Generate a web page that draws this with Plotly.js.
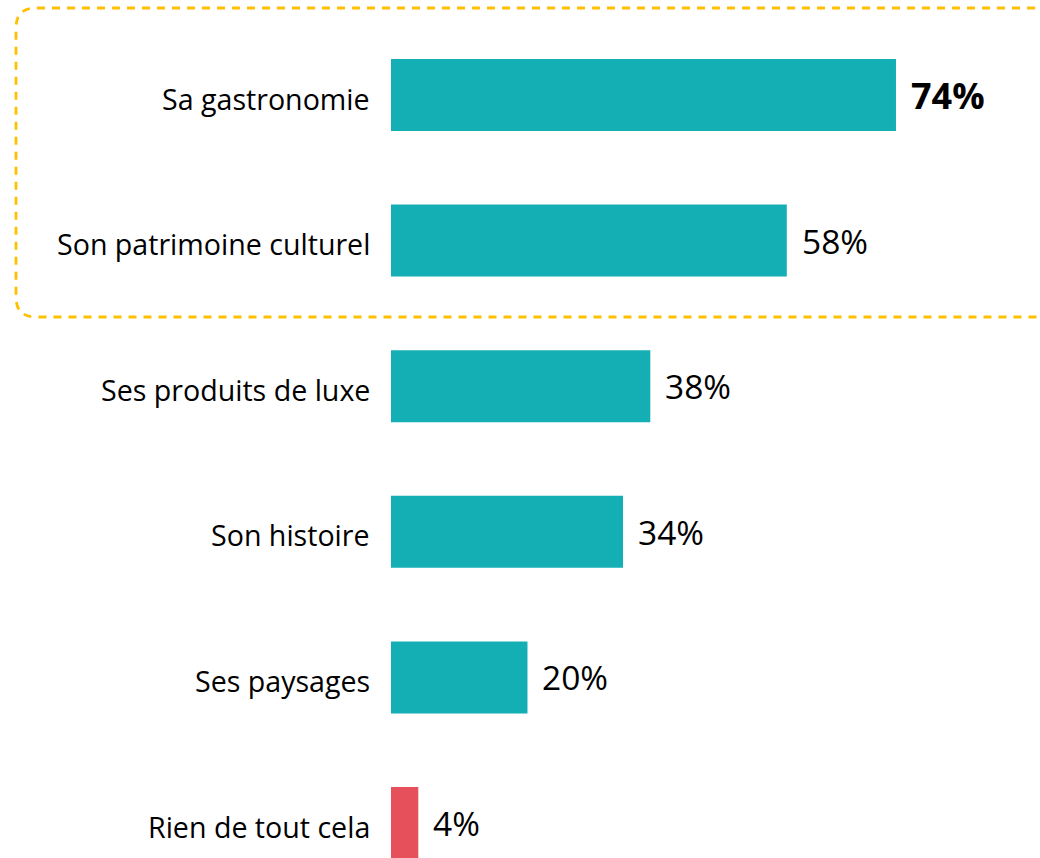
<!DOCTYPE html>
<html>
<head>
<meta charset="utf-8">
<script src="https://cdn.plot.ly/plotly-3.0.1.min.js"></script>
<style>html,body{margin:0;padding:0;background:#fff;}#chart{width:1040px;height:858px;}</style>
</head>
<body>
<div id="chart"></div>
<script>
const categories = ["Sa gastronomie", "Son patrimoine culturel", "Ses produits de luxe", "Son histoire", "Ses paysages", "Rien de tout cela"];
const values = [74, 58, 38, 34, 20, 4];
const valueLabels = ["<b>74%</b>", "58%", "38%", "34%", "20%", "4%"];
const labelSizes = [36, 33.5, 33.5, 33.5, 33.5, 33.5];
const barColors = ["#14AEB5", "#14AEB5", "#14AEB5", "#14AEB5", "#14AEB5", "#E5505A"];

const W = 1040, H = 858, L = 391;
const FONT = "Open Sans, sans-serif";

// dashed rounded box (pixel coords -> paper)
const px = x => (x - L) / (W - L);
const py = y => 1 - y / H;
const bx0 = 16, by0 = 8, by1 = 317, r = 20, bx1 = 1050;
const boxPath = `M ${px(bx1)},${py(by0)} L ${px(bx0 + r)},${py(by0)} Q ${px(bx0)},${py(by0)} ${px(bx0)},${py(by0 + r)} ` +
  `L ${px(bx0)},${py(by1 - r)} Q ${px(bx0)},${py(by1)} ${px(bx0 + r)},${py(by1)} L ${px(bx1)},${py(by1)}`;

const valueAnn = categories.map((c, i) => ({
  x: values[i], y: c, xref: "x", yref: "y",
  text: valueLabels[i], showarrow: false, xanchor: "left", yanchor: "middle",
  xshift: 13, font: {family: FONT, size: labelSizes[i], color: "#000"}
}));
const catAnn = categories.map((c, i) => ({
  x: 0, y: c, xref: "x", yref: "y",
  text: c, showarrow: false, xanchor: "right", yanchor: "middle",
  xshift: -19, yshift: -3, font: {family: FONT, size: 28.6, color: "#000"}
}));

const data = [{
  type: "bar", orientation: "h",
  x: values, y: categories,
  marker: {color: barColors, line: {width: 0}},
  hoverinfo: "skip"
}];

const layout = {
  width: W, height: H,
  margin: {l: L, r: 0, t: 0, b: 0, pad: 0},
  paper_bgcolor: "#fff", plot_bgcolor: "#fff",
  showlegend: false,
  bargap: 0.5055,
  font: {family: FONT, color: "#000"},
  xaxis: {range: [0, (W - L) / 6.824], visible: false, fixedrange: true},
  yaxis: {
    type: "category", categoryorder: "array", categoryarray: categories,
    range: [5.24, -0.6525],
    showgrid: false, zeroline: false, showline: false, ticks: "",
    showticklabels: false
  },
  annotations: valueAnn.concat(catAnn),
  shapes: [{
    type: "path", xref: "paper", yref: "paper", path: boxPath,
    line: {color: "#FFC000", width: 2.8, dash: "8px,7px"}, layer: "above"
  }]
};

Plotly.newPlot("chart", data, layout, {displayModeBar: false, staticPlot: true});
</script>
</body>
</html>
